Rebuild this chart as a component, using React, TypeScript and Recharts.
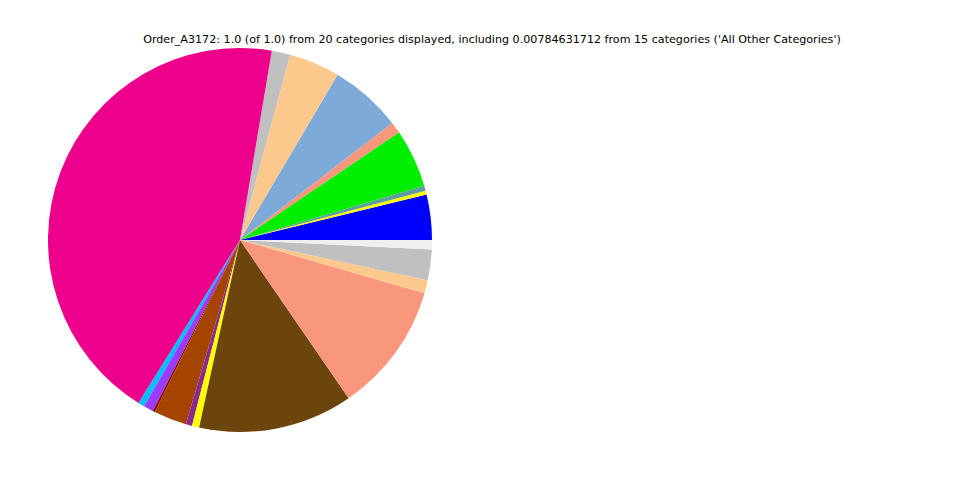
import React from "react";
import { PieChart, Pie, Cell } from "recharts";

const categories = [
  "Category 1", "Category 2", "Category 3", "Category 4", "Category 5",
  "Category 6", "Category 7", "Category 8", "Category 9", "Category 10",
  "Category 11", "Category 12", "Category 13", "Category 14", "Category 15",
  "Category 16", "Category 17", "Category 18", "Category 19", "All Other Categories",
];

const shares = [
  0.0381, 0.0032, 0.0043, 0.0492, 0.0097,
  0.0608, 0.0428, 0.0156, 0.4383, 0.0053,
  0.0083, 0.0017, 0.0278, 0.0053, 0.0061,
  0.1300, 0.1097, 0.0111, 0.0258, 0.0078,
];

const colors = [
  "#0000FF", "#FFFF00", "#5F9EA0", "#00EE00", "#F8977B",
  "#7DAAD9", "#FDC88B", "#C0C0C0", "#EC008C", "#00BFFF",
  "#9B3BFF", "#8B0000", "#A54400", "#8B2A8B", "#FFFF00",
  "#6B450B", "#F8977B", "#FDC88B", "#C0C0C0", "#F0F0F0",
];

const title =
  "Order_A3172: 1.0 (of 1.0) from 20 categories displayed, including 0.00784631712 from 15 categories ('All Other Categories')";

const data = categories.map((name, i) => ({ name, value: shares[i] }));

export default function App() {
  return (
    <div style={{ position: "absolute", left: 0, top: 0, width: 960, height: 480, background: "#fff" }}>
      <div
        style={{
          position: "absolute",
          left: 0,
          top: 33,
          width: 984,
          textAlign: "center",
          fontFamily: "'DejaVu Sans', sans-serif",
          fontSize: 11.13,
          color: "#000",
          whiteSpace: "nowrap",
        }}
      >
        {title}
      </div>
      <PieChart width={960} height={480} margin={{ top: 0, right: 0, bottom: 0, left: 0 }}>
        <Pie
          data={data}
          dataKey="value"
          nameKey="name"
          cx={240}
          cy={240}
          outerRadius={192}
          startAngle={0}
          endAngle={360}
          stroke="none"
          isAnimationActive={false}
        >
          {data.map((d, i) => (
            <Cell key={d.name} fill={colors[i]} />
          ))}
        </Pie>
      </PieChart>
    </div>
  );
}
